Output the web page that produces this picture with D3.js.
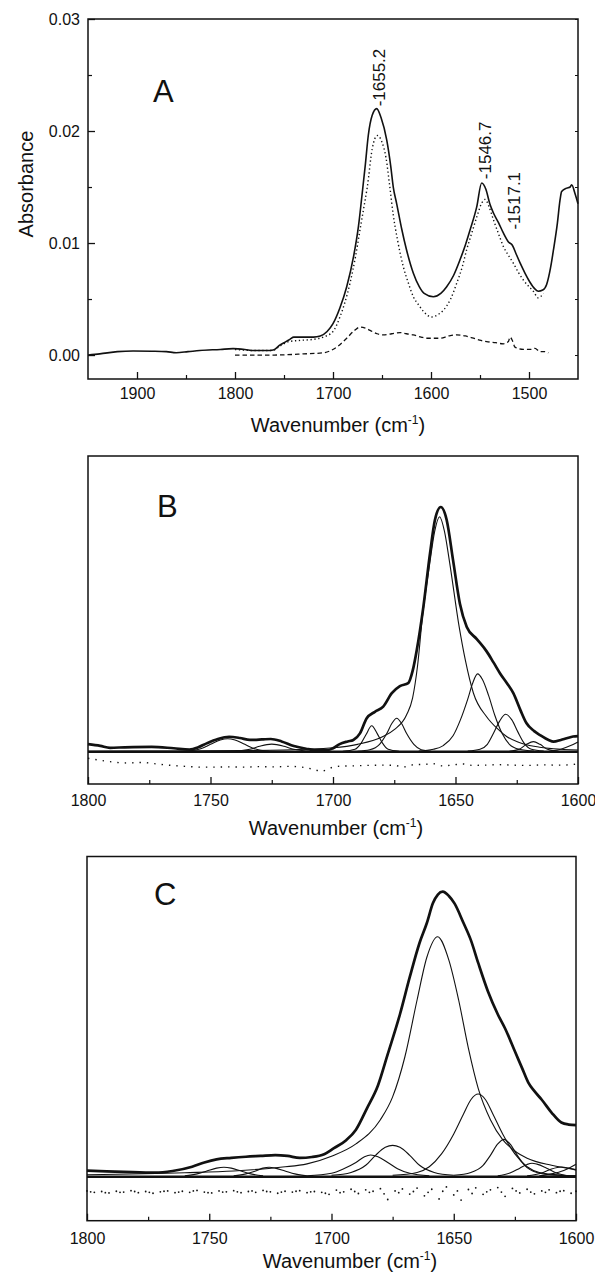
<!DOCTYPE html>
<html>
<head>
<meta charset="utf-8">
<script src="https://cdn.jsdelivr.net/npm/d3@7"></script>
<style>
  body { margin: 0; background: #fff; }
  text { font-family: "Liberation Sans", Arial, Helvetica, sans-serif; fill: #111; }
</style>
</head>
<body>
<div id="chart-area"></div>
<script>
/*
*    FTIR spectra, panels A-C
*/

// ---------- data ----------
// panel A, absorbance vs wavenumber
const solidA = [[1950,0.0000],[1938,0.0001],[1920,0.0003],[1904,0.00036],[1885,0.00034],[1870,0.0003],[1860,0.00021],[1848,0.0003],[1836,0.0004],[1815,0.0005],[1802,0.00057],[1790,0.0005],[1781,0.0004],[1768,0.0004],[1761,0.00045],[1754,0.0009],[1748,0.0012],[1744,0.0014],[1740,0.0016],[1730,0.0016],[1720,0.0016],[1713,0.0017],[1706,0.0021],[1700,0.0028],[1693,0.0042],[1686,0.0061],[1679,0.0088],[1674,0.0115],[1670.5,0.0142],[1667,0.0170],[1664,0.0196],[1660,0.0214],[1655.4,0.0220],[1651,0.0212],[1645.2,0.0192],[1641,0.0168],[1638.5,0.0150],[1635,0.0135],[1630,0.0113],[1625,0.0094],[1618,0.0073],[1612,0.0061],[1607,0.0055],[1597.6,0.0052],[1590,0.0055],[1584,0.0061],[1577,0.0071],[1570.4,0.0085],[1565,0.0098],[1560,0.0112],[1553.4,0.0132],[1548.3,0.01536],[1544,0.0148],[1540,0.0135],[1536.4,0.0127],[1531,0.0118],[1526.2,0.0109],[1521,0.0101],[1517,0.0098],[1513,0.0090],[1509,0.0082],[1504,0.0073],[1499,0.0065],[1494,0.0059],[1490.5,0.0057],[1486,0.0058],[1482,0.0063],[1478,0.0078],[1475,0.0094],[1471,0.0118],[1468.4,0.0138],[1466.7,0.0146],[1461.6,0.0149],[1458,0.0150],[1456.5,0.0152],[1453,0.0144],[1450,0.0135]]
const dottedA = [[1800,0.0005],[1780,0.0004],[1762,0.0004],[1754,0.0008],[1745,0.0012],[1735,0.0013],[1720,0.0014],[1710,0.0016],[1700,0.0021],[1692.9,0.0034],[1682.7,0.0064],[1677,0.0088],[1672.4,0.0112],[1667.3,0.0138],[1665,0.0150],[1660,0.0184],[1654.8,0.0196],[1650,0.0190],[1645.9,0.0176],[1642,0.0150],[1638.5,0.0125],[1634,0.0102],[1628.3,0.0079],[1623,0.0064],[1618,0.0052],[1612,0.0044],[1607.8,0.0039],[1599.3,0.0034],[1593,0.0036],[1587.4,0.0040],[1580,0.0050],[1573.8,0.0064],[1568,0.0079],[1563.6,0.0094],[1558,0.0110],[1553.4,0.0123],[1548,0.0136],[1544.9,0.0139],[1541,0.0133],[1536.4,0.0121],[1531,0.0108],[1526.2,0.0097],[1521,0.0089],[1516,0.0082],[1511,0.0074],[1505.8,0.0067],[1500,0.0061],[1495.6,0.0057],[1490.5,0.0051],[1485.4,0.0055]]
const dashedA = [[1800,0.0000],[1760,0.0000],[1730,0.0001],[1710,0.0002],[1696.3,0.0007],[1686,0.0015],[1678,0.0022],[1672.4,0.0025],[1667,0.0024],[1662.2,0.0022],[1655,0.0019],[1648.6,0.0018],[1640,0.0019],[1631.6,0.0020],[1625,0.0019],[1618,0.0018],[1610,0.0016],[1604.4,0.0015],[1590.8,0.0015],[1582,0.0017],[1573.8,0.0018],[1565,0.0017],[1556.7,0.0015],[1549,0.0013],[1543.2,0.0012],[1534,0.0011],[1526.2,0.0010],[1521,0.0012],[1519.4,0.0016],[1517,0.0013],[1514.3,0.0007],[1505.8,0.0005],[1498,0.0005],[1493.9,0.0006],[1488.8,0.0003],[1484,0.0003],[1480.3,0.0002]]
const peakLabels = ["1655.2", "1546.7", "1517.1"]
const peakLabelAbs = [0.0222, 0.0157, 0.0112]

// panel B, relative units (main band = 100)
const sumB = [[1800,3.1],[1795,2.4],[1791,1.6],[1785,1.8],[1774,2.0],[1765,1.4],[1758.6,0.9],[1755,1.8],[1751.6,3.4],[1747,5.2],[1742.4,6.1],[1738,5.6],[1733.9,4.8],[1729,5.0],[1725.4,5.2],[1721,4.2],[1716,2.3],[1711,1.2],[1707.6,0.7],[1702,0.7],[1700,1.4],[1697.3,3.1],[1694,4.2],[1691.7,4.8],[1689,7.5],[1686.3,13.6],[1682.9,16.3],[1679.5,18.4],[1676,23.9],[1672.7,26.8],[1669.3,28],[1667.5,33],[1665.8,41.6],[1663.1,59.3],[1660.4,81],[1658.4,94.7],[1656,100],[1653.6,94.7],[1651,78.3],[1648.2,60.5],[1645.4,51],[1641.3,46],[1637.3,41],[1634.5,36.5],[1631.8,32],[1629,28],[1626.4,23.9],[1623.5,17],[1621,11.6],[1618,8.5],[1615.5,6.8],[1612,4.8],[1610,4.1],[1607,4.8],[1604.6,5.5],[1602,6.2],[1600,6.4]]
const bandsB = [
  [[1760,0.2],[1754,1.2],[1750,3],[1746,4.8],[1743,5.3],[1740,4.8],[1736,3],[1732,1.2],[1726,0.2]],
  [[1740,0.2],[1734,1],[1730,2.2],[1727,2.9],[1725,3.1],[1723,2.9],[1720,2.2],[1716,1],[1710,0.2]],
  [[1696,0.2],[1691,1],[1688.5,3.5],[1686.5,7],[1684.2,10.6],[1682,7.5],[1680,3.8],[1677.5,1],[1673,0.2]],
  [[1690,0.2],[1685,0.8],[1681,3],[1678,7.5],[1676,11.5],[1674,13.7],[1672,11.5],[1670,7.5],[1667,3],[1664,0.8],[1660,0.2]],
  [[1800,0.2],[1760,0.3],[1720,0.7],[1700,1.6],[1690,3],[1680,6],[1675,9],[1670,15],[1667.5,22],[1665.5,35],[1663.5,55],[1660.5,77],[1658.5,90],[1656.5,96],[1654.5,90],[1652.5,78],[1648.5,51],[1646,37.5],[1642.7,24],[1637.3,14.3],[1633,9.5],[1629,6.1],[1624,3.8],[1618,2.2],[1610,1.2],[1600,0.7]],
  [[1665,0.3],[1659,1],[1655,2.5],[1651,6.5],[1648,13],[1645,21.5],[1643,28],[1641,31.8],[1639,29.5],[1636.5,23],[1634,15],[1631,7.5],[1628,3],[1624,1],[1618,0.3]],
  [[1645,0.3],[1640,1],[1637,3],[1634.5,7.5],[1632,12.5],[1629.5,15.3],[1627,13],[1624.5,8],[1622,3.5],[1619,1],[1614,0.3]],
  [[1628,0.2],[1624,1],[1621,3],[1618.2,4.1],[1615.5,3],[1612.5,1],[1608,0.2]],
  [[1612,0.2],[1607,1],[1603,2.5],[1600,4]]
]
const residB = [[1800,-2.7],[1795,-3.5],[1790,-4.2],[1784,-4.6],[1778,-4.4],[1772,-5.0],[1766,-5.6],[1760,-6.0],[1754,-6.3],[1748,-6.3],[1742,-6.2],[1736,-6.3],[1730,-6.1],[1724,-6.2],[1718,-6.0],[1712,-6.4],[1708,-7.2],[1704.8,-8.0],[1701,-6.6],[1697,-5.9],[1692,-5.8],[1686,-5.6],[1680,-5.5],[1675,-5.6],[1671,-6.2],[1667,-5.3],[1663,-5.2],[1659,-4.9],[1655,-5.8],[1651,-5.4],[1647,-5.0],[1643,-5.6],[1638,-5.5],[1632,-5.3],[1626,-5.5],[1620,-5.6],[1614,-5.4],[1608,-5.5],[1603,-5.3],[1600,-5.0]]

// panel C, relative units (envelope = 100)
const sumC = [[1800,2.1],[1792,1.9],[1785,1.7],[1772,1.4],[1765,2.0],[1757,3.5],[1752,5.0],[1747,6.1],[1741,6.6],[1735,7.0],[1729,7.3],[1723,7.6],[1718,7.3],[1713,6.6],[1708,6.9],[1703,7.9],[1699,10],[1694,12.8],[1690,16.5],[1685.5,24],[1681,32],[1677,43],[1672,57],[1668,70],[1664,82],[1661,89],[1658.5,96],[1656.5,99],[1654.5,100],[1652,98.5],[1649.7,95.9],[1646,89],[1643,83],[1640,75],[1636,65],[1632,57],[1629,52],[1625,44],[1622,38],[1619.5,33],[1617,30],[1614,27],[1610,22.5],[1606,19],[1603,18.3],[1600,18.1]]
const bandsC = [
  [[1760,0.3],[1755,1],[1751,2],[1747,3],[1744,3.3],[1741,3],[1737,2],[1733,1],[1728,0.3]],
  [[1740,0.3],[1735,1],[1731,2],[1728,3],[1725.5,3.3],[1723,3],[1719,2],[1715,1],[1710,0.3]],
  [[1710,0.3],[1700,1.2],[1695,2.8],[1690,5],[1686.5,7],[1684,7.6],[1681,7],[1677,5],[1673,2.8],[1668,1.2],[1660,0.3]],
  [[1700,0.5],[1692,1.5],[1686,4],[1682,7.5],[1678,10.3],[1675,11],[1672,10.3],[1668,7.5],[1664,4],[1658,1.5],[1650,0.5]],
  [[1800,0.7],[1760,1.4],[1740,2.0],[1720,3.4],[1710,4.5],[1700,7.2],[1690,11.5],[1680,20],[1675,28],[1670,42],[1665,62],[1661,77],[1656.6,84.2],[1652,76],[1648,62],[1644,45],[1640,31],[1635,20],[1630,13],[1625,9],[1620,6.5],[1610,4],[1600,2.5]],
  [[1675,0.5],[1665,1.5],[1660,3.5],[1655,8],[1650,15],[1646,22],[1643,27],[1640,29],[1637,27],[1634,22],[1630,15],[1625,8],[1620,3.5],[1615,1.5],[1605,0.5],[1600,0.3]],
  [[1650,0.5],[1643,1.5],[1638,4],[1635,7.5],[1632,11.5],[1629.5,13.1],[1627,11.5],[1624,7.5],[1621,4],[1616,1.5],[1608,0.5],[1600,0.3]],
  [[1632,0.3],[1627,1.3],[1623,3],[1620,4.3],[1618,4.7],[1616,4.4],[1612,3],[1608,1.3],[1603,0.3]],
  [[1620,0.3],[1614,1.3],[1610,2.7],[1606,3.4],[1603,3.0],[1600,2.3]],
  [[1615,0.3],[1610,1],[1605,2.2],[1600,4.4]]
]
const residC = [[1800,-5.0],[1798.5,-5.3],[1797,-5.5],[1794,-5.2],[1792.5,-5.6],[1791,-5.7],[1788,-5.1],[1786.5,-5.5],[1785,-5.4],[1782,-4.9],[1780.5,-5.2],[1779,-5.6],[1776,-5.2],[1774.5,-5.5],[1773,-5.8],[1770,-5.3],[1768.5,-5.1],[1767,-5.0],[1764,-5.6],[1762.5,-5.4],[1761,-5.1],[1758,-5.5],[1756.5,-5.0],[1755,-4.8],[1752,-5.4],[1750.5,-5.6],[1749,-5.7],[1746,-5.0],[1744.5,-5.4],[1743,-5.3],[1740,-4.9],[1738.5,-5.3],[1737,-5.6],[1734,-5.2],[1732.5,-5.0],[1731,-5.5],[1728,-4.8],[1726.5,-5.2],[1725,-5.3],[1722,-5.8],[1720.5,-5.4],[1719,-5.1],[1716,-5.4],[1714.5,-5.1],[1713,-4.9],[1710,-5.6],[1708.5,-5.3],[1707,-5.2],[1704,-5.5],[1702.5,-5.8],[1701,-6.2],[1698,-4.7],[1696.5,-5.6],[1695,-5.3],[1692,-4.4],[1690.5,-5.2],[1689,-5.9],[1686,-4.6],[1684.5,-5.5],[1683,-5.1],[1680,-4.2],[1678.5,-6.0],[1677,-8.0],[1674,-5.0],[1672.5,-5.6],[1671,-4.3],[1668,-6.1],[1666.5,-5.2],[1665,-4.0],[1662,-6.7],[1660.5,-5.5],[1659,-4.4],[1656,-7.8],[1654.5,-5.1],[1653,-3.6],[1650,-6.4],[1648.5,-5.0],[1647,-8.2],[1644,-4.5],[1642.5,-5.9],[1641,-3.9],[1638,-6.2],[1636.5,-5.3],[1635,-4.6],[1632,-3.8],[1630.5,-5.4],[1629,-6.9],[1626,-4.1],[1624.5,-5.0],[1623,-5.7],[1620,-4.4],[1618.5,-5.4],[1617,-6.0],[1614,-5.0],[1612.5,-5.5],[1611,-4.6],[1608,-5.6],[1606.5,-5.1],[1605,-4.9],[1602,-5.8],[1600,-5.1]]

// tick values
const xMajorA = [1900, 1800, 1700, 1600, 1500]
const xMinorA = [1850, 1750, 1650, 1550]
const yMajorA = [0, 0.01, 0.02, 0.03]
const yMinorA = [0.005, 0.015, 0.025]
const xMajorBC = [1800, 1750, 1700, 1650, 1600]
const xMinorBC = [1775, 1725, 1675, 1625]

// ---------- layout ----------
const WIDTH = 595
const HEIGHT = 1277
const PANEL_A = { LEFT: 88, RIGHT: 578, TOP: 19, BOTTOM: 379 }
const PANEL_B = { LEFT: 88, RIGHT: 578, TOP: 456, BOTTOM: 784 }
const PANEL_C = { LEFT: 87, RIGHT: 576, TOP: 856.5, BOTTOM: 1220.7 }

const svg = d3.select("#chart-area").append("svg")
  .attr("width", WIDTH)
  .attr("height", HEIGHT)

svg.append("rect").attr("width", WIDTH).attr("height", HEIGHT).attr("fill", "#fff")

// Scales
const xA = d3.scaleLinear().domain([1950, 1450]).range([PANEL_A.LEFT, PANEL_A.RIGHT])
const yA = d3.scaleLinear().domain([-0.00214, 0.03]).range([PANEL_A.BOTTOM, PANEL_A.TOP])
const xB = d3.scaleLinear().domain([1800, 1600]).range([PANEL_B.LEFT, PANEL_B.RIGHT])
const yB = d3.scaleLinear().domain([-13.2, 120.84]).range([PANEL_B.BOTTOM, PANEL_B.TOP])
const xC = d3.scaleLinear().domain([1800, 1600]).range([PANEL_C.LEFT, PANEL_C.RIGHT])
const yC = d3.scaleLinear().domain([-15.44, 112.35]).range([PANEL_C.BOTTOM, PANEL_C.TOP])

const lineFor = (x, y) => d3.line()
  .x(d => x(d[0]))
  .y(d => y(d[1]))
  .curve(d3.curveMonotoneX)

// bottom axis with inward ticks; labels below
function xAxis(P, x, major, minor, pad) {
  svg.append("g")
    .attr("transform", `translate(0, ${P.BOTTOM})`)
    .call(d3.axisBottom(x).tickValues(major).tickSize(-7).tickPadding(pad).tickFormat(d3.format("d")))
    .call(g => g.select(".domain").remove())
    .call(g => g.selectAll("line").attr("stroke", "#111").attr("stroke-width", 1.3))
    .call(g => g.selectAll("text").attr("font-size", 16).attr("fill", "#111")
      .style("font-family", "'Liberation Sans', Arial, sans-serif"))
  svg.append("g")
    .attr("transform", `translate(0, ${P.BOTTOM})`)
    .call(d3.axisBottom(x).tickValues(minor).tickSize(-4).tickFormat(""))
    .call(g => g.select(".domain").remove())
    .call(g => g.selectAll("line").attr("stroke", "#111").attr("stroke-width", 1.2))
}

function frame(P) {
  svg.append("rect")
    .attr("x", P.LEFT).attr("y", P.TOP)
    .attr("width", P.RIGHT - P.LEFT).attr("height", P.BOTTOM - P.TOP)
    .attr("fill", "none").attr("stroke", "#111").attr("stroke-width", 1.5)
}

function xTitle(cx, y) {
  const t = svg.append("text")
    .attr("x", cx).attr("y", y)
    .attr("text-anchor", "middle")
    .attr("font-size", 20)
  t.append("tspan").text("Wavenumber (cm")
  t.append("tspan").attr("font-size", 12).attr("dy", -8).text("-1")
  t.append("tspan").attr("dy", 8).text(")")
}

function panelLetter(txt, x, y) {
  svg.append("text").attr("x", x).attr("y", y).attr("font-size", 31).text(txt)
}

// ---------- Panel A ----------
xAxis(PANEL_A, xA, xMajorA, xMinorA, 9)

const yAxisA = svg.append("g")
  .attr("transform", `translate(${PANEL_A.LEFT}, 0)`)
yAxisA.call(d3.axisLeft(yA).tickValues(yMajorA).tickSize(-7).tickPadding(8).tickFormat(d3.format(".2f")))
  .call(g => g.select(".domain").remove())
  .call(g => g.selectAll("line").attr("stroke", "#111").attr("stroke-width", 1.3))
  .call(g => g.selectAll("text").attr("font-size", 16).attr("fill", "#111")
    .style("font-family", "'Liberation Sans', Arial, sans-serif"))
svg.append("g")
  .attr("transform", `translate(${PANEL_A.LEFT}, 0)`)
  .call(d3.axisLeft(yA).tickValues(yMinorA).tickSize(-4).tickFormat(""))
  .call(g => g.select(".domain").remove())
  .call(g => g.selectAll("line").attr("stroke", "#111").attr("stroke-width", 1.2))
// mirrored ticks on the right edge
svg.append("g")
  .attr("transform", `translate(${PANEL_A.RIGHT}, 0)`)
  .call(d3.axisRight(yA).tickValues(yMajorA.concat(yMinorA)).tickSize(-3).tickFormat(""))
  .call(g => g.select(".domain").remove())
  .call(g => g.selectAll("line").attr("stroke", "#111").attr("stroke-width", 1))

frame(PANEL_A)

const lineA = lineFor(xA, yA)
svg.append("path").datum(dashedA).attr("d", lineA)
  .attr("fill", "none").attr("stroke", "#111").attr("stroke-width", 1.3)
  .attr("stroke-dasharray", "4.5,3")
svg.append("path").datum(dottedA).attr("d", lineA)
  .attr("fill", "none").attr("stroke", "#111").attr("stroke-width", 1.4)
  .attr("stroke-dasharray", "1.3,2.6")
svg.append("path").datum(solidA).attr("d", lineA)
  .attr("fill", "none").attr("stroke", "#111").attr("stroke-width", 1.6)

peakLabels.forEach((lab, i) => {
  svg.append("text")
    .attr("transform", `translate(${xA(+lab) + 8}, ${yA(peakLabelAbs[i])}) rotate(-90)`)
    .attr("font-size", 17)
    .text("-" + lab)
})

panelLetter("A", 153, 102)
svg.append("text")
  .attr("transform", `translate(33, 184) rotate(-90)`)
  .attr("text-anchor", "middle")
  .attr("font-size", 20)
  .text("Absorbance")
xTitle(338, 432)

// ---------- Panels B and C ----------
function fitPanel(P, x, y, sum, bands, resid, dotResid, pad, titleX, titleY, letter, lx, ly) {
  xAxis(P, x, xMajorBC, xMinorBC, pad)
  frame(P)
  const line = lineFor(x, y)

  // baseline of the fit
  svg.append("line")
    .attr("x1", P.LEFT).attr("x2", P.RIGHT)
    .attr("y1", y(0)).attr("y2", y(0))
    .attr("stroke", "#111").attr("stroke-width", 2.4)

  bands.forEach(b => {
    svg.append("path").datum(b).attr("d", line)
      .attr("fill", "none").attr("stroke", "#111").attr("stroke-width", 1.1)
  })
  svg.append("path").datum(sum).attr("d", line)
    .attr("fill", "none").attr("stroke", "#111").attr("stroke-width", 2.7)

  if (dotResid) {
    svg.append("g").selectAll("circle")
      .data(resid)
      .enter().append("circle")
      .attr("cx", d => x(d[0]))
      .attr("cy", d => y(d[1]))
      .attr("r", 0.9)
      .attr("fill", "#111")
  } else {
    svg.append("path").datum(resid).attr("d", line)
      .attr("fill", "none").attr("stroke", "#111").attr("stroke-width", 1.4)
      .attr("stroke-dasharray", "1.4,6")
  }

  panelLetter(letter, lx, ly)
  xTitle(titleX, titleY)
}

fitPanel(PANEL_B, xB, yB, sumB, bandsB, residB, false, 11, 336, 835, "B", 157, 517)
fitPanel(PANEL_C, xC, yC, sumC, bandsC, residC, true, 12, 350, 1268, "C", 154, 905)
</script>
</body>
</html>
